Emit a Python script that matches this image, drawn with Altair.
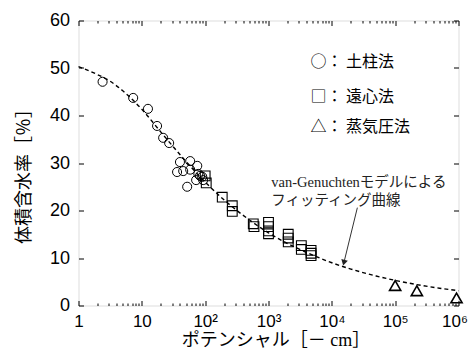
import altair as alt
import pandas as pd

# --- data ---
circle_h = [2.4, 7.3, 12.5, 17.4, 21.7, 27, 40, 58, 75, 36, 45, 58, 78, 90, 93, 52, 83, 72]
circle_theta = [47.1, 43.7, 41.4, 37.8, 35.3, 34.2, 30.2, 30.4, 29.4, 28.1, 28.3, 28.6, 27.7, 27.1, 26.4, 25.0, 27.3, 26.4]

square_h = [100, 104, 186, 268, 268, 575, 590, 1000, 1000, 1000, 1000, 2050, 2050, 2050, 3300, 3300, 4700, 4700, 4700]
square_theta = [27.3, 25.8, 22.8, 21.0, 19.8, 17.2, 16.6, 17.5, 16.6, 15.7, 15.1, 15.0, 14.2, 13.4, 12.6, 11.8, 11.6, 11.0, 10.5]

triangle_h = [100000, 220000, 930000]
triangle_theta = [4.2, 3.1, 1.6]

curve_h = [1, 2, 3, 5, 10, 20, 50, 100, 200, 500, 1000, 2000, 5000, 10000, 20000, 50000, 100000, 200000, 500000, 1000000]
curve_theta = [50.3, 48.6, 47.4, 45.2, 41.3, 36.5, 30.3, 26.0, 22.2, 18.0, 15.3, 13.05, 10.6, 9.0, 7.67, 6.21, 5.29, 4.50, 3.64, 3.11]

legend_labels = ["○： 土柱法", "□： 遠心法", "△： 蒸気圧法"]
legend_h = [4600, 4600, 4600]
legend_theta = [51.3, 43.9, 37.6]

note_labels = ["van-Genuchtenモデルによる", "フィッティング曲線"]
note_h = [1105, 1105]
note_theta = [25.8, 22.0]

arrow_h = [25300]
arrow_theta = [20.6]
arrow_h2 = [15490]
arrow_theta2 = [9.0]

x_major = [1, 10, 100, 1000, 10000, 100000, 1000000]
x_minor = [k * 10 ** d for d in range(6) for k in range(2, 10)]
y_major = [0, 10, 20, 30, 40, 50, 60]

# --- tables ---
circles = pd.DataFrame({"h": circle_h, "theta": circle_theta})
squares = pd.DataFrame({"h": square_h, "theta": square_theta})
triangles = pd.DataFrame({"h": triangle_h, "theta": triangle_theta})
curve = pd.DataFrame({"h": curve_h, "theta": curve_theta})
legend_df = pd.DataFrame({"h": legend_h, "theta": legend_theta, "label": legend_labels})
note_df = pd.DataFrame({"h": note_h, "theta": note_theta, "label": note_labels})
arrow_df = pd.DataFrame({"h": arrow_h, "theta": arrow_theta, "h2": arrow_h2, "theta2": arrow_theta2})

xscale = alt.Scale(type="log", domain=[1, 1000000], nice=False)
yscale = alt.Scale(domain=[0, 60], nice=False, zero=False)

CJK = "Liberation Serif, Noto Sans CJK JP"

label_expr = ("datum.value == 1 ? '1' : datum.value == 10 ? '10' : datum.value == 100 ? '10²' : "
              "datum.value == 1000 ? '10³' : datum.value == 10000 ? '10⁴' : "
              "datum.value == 100000 ? '10⁵' : '10⁶'")

def tick_axis(orient, values, size):
    return alt.Axis(orient=orient, values=values, tickSize=size, offset=-size, labels=False,
                    domain=False, grid=False, title=None, ticks=True, tickColor="black",
                    tickWidth=1)

x_label_axis = alt.Axis(orient="bottom", values=x_major, labelExpr=label_expr, ticks=False,
                        domain=False, grid=False, labelFlush=False, labelFont="Liberation Sans",
                        labelFontSize=17, labelColor="black", labelPadding=8,
                        labelOffset=alt.expr("datum.value == 1000000 ? -4 : 0"),
                        title="ポテンシャル［－ cm］", titleFont=CJK, titleFontSize=18,
                        titleFontWeight="normal", titleColor="black", titleX=197, titleY=35,
                        titleBaseline="middle")
y_label_axis = alt.Axis(orient="left", values=y_major, ticks=False, domain=False, grid=False,
                        labelFont="Liberation Sans", labelFontSize=18, labelColor="black",
                        labelPadding=9, title="体積含水率［％］", titleFont=CJK, titleFontSize=18,
                        titleFontWeight="normal", titleColor="black", titleX=-54, titleY=151,
                        titleBaseline="middle", titleAngle=270)

curve_layer = alt.Chart(curve).mark_line(color="black", strokeDash=[4, 3], strokeWidth=1.4,
                                         interpolate="monotone").encode(
    x=alt.X("h:Q", scale=xscale, axis=x_label_axis),
    y=alt.Y("theta:Q", scale=yscale, axis=y_label_axis),
)

circle_layer = alt.Chart(circles).mark_point(shape="circle", size=82, color="black", filled=False,
                                             strokeWidth=1, opacity=1).encode(
    x=alt.X("h:Q", scale=xscale, axis=tick_axis("bottom", x_major, 5)),
    y=alt.Y("theta:Q", scale=yscale, axis=tick_axis("left", y_major, 5)),
)

square_layer = alt.Chart(squares).mark_point(shape="square", size=95, color="black", filled=False,
                                             strokeWidth=1.1, opacity=1).encode(
    x=alt.X("h:Q", scale=xscale, axis=tick_axis("top", x_major, 5)),
    y=alt.Y("theta:Q", scale=yscale, axis=tick_axis("right", y_major, 5)),
)

triangle_layer = alt.Chart(triangles).mark_point(shape="triangle-up", size=125, color="black",
                                                 filled=False, strokeWidth=1.6, opacity=1).encode(
    x=alt.X("h:Q", scale=xscale, axis=tick_axis("bottom", x_minor, 2.5)),
    y=alt.Y("theta:Q", scale=yscale, axis=None),
)

legend_layer = alt.Chart(legend_df).mark_text(align="left", baseline="middle", font="Noto Sans CJK JP",
                                              fontSize=16, color="black").encode(
    x=alt.X("h:Q", scale=xscale, axis=tick_axis("top", x_minor, 2.5)),
    y=alt.Y("theta:Q", scale=yscale, axis=None),
    text="label:N",
)

note_layer = alt.Chart(note_df).mark_text(align="left", baseline="middle", font=CJK,
                                          fontSize=14.5, color="#222222").encode(
    x=alt.X("h:Q", scale=xscale, axis=None),
    y=alt.Y("theta:Q", scale=yscale, axis=None),
    text="label:N",
)

arrow_line = alt.Chart(arrow_df).mark_rule(color="#333333", strokeWidth=1).encode(
    x=alt.X("h:Q", scale=xscale, axis=None),
    y=alt.Y("theta:Q", scale=yscale, axis=None),
    x2="h2:Q",
    y2="theta2:Q",
)

arrow_head = alt.Chart(arrow_df).mark_point(shape="triangle-up", size=45, filled=True, color="#222222",
                                            angle=194, opacity=1).encode(
    x=alt.X("h2:Q", scale=xscale, axis=None),
    y=alt.Y("theta2:Q", scale=yscale, axis=None),
)

chart = alt.layer(
    curve_layer, circle_layer, square_layer, triangle_layer, legend_layer,
    note_layer, arrow_line, arrow_head,
).resolve_axis(x="independent", y="independent").properties(
    width=380, height=285,
    autosize=alt.AutoSizeParams(type="none"),
    padding={"left": 70.5, "top": 12.5, "right": 9.5, "bottom": 44.5},
).configure_view(stroke="black", strokeWidth=1.5).configure(background="white")

chart.save("out.html", embed_options={"renderer": "svg", "actions": False})
